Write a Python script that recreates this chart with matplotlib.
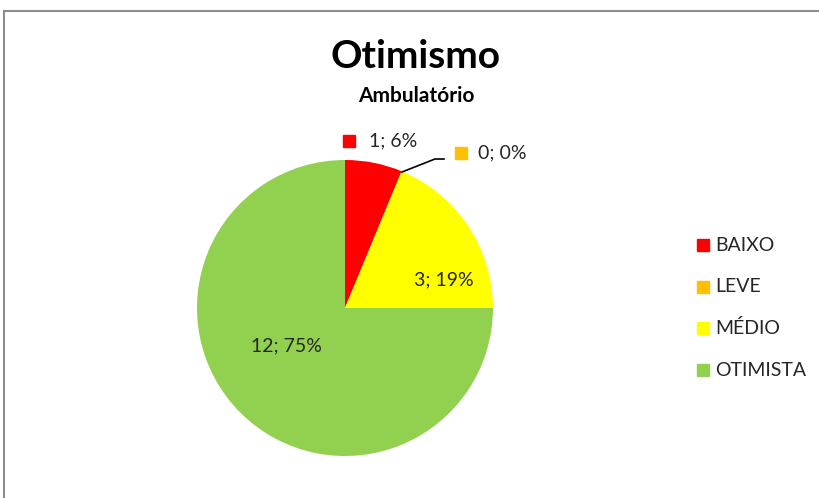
import numpy as np
import matplotlib.pyplot as plt
from matplotlib.patches import Rectangle
from matplotlib.lines import Line2D

categories = ['BAIXO', 'LEVE', 'MÉDIO', 'OTIMISTA']
counts = [1, 0, 3, 12]
percents = ['6%', '0%', '19%', '75%']
colors = ['#FF0000', '#FFC000', '#FFFF00', '#92D050']

plt.rcParams['font.family'] = ['Lato', 'DejaVu Sans']

W, H = 819, 498
fig = plt.figure(figsize=(W / 100, H / 100), dpi=100)

def fx(px):
    return px / W

def fy(py):
    return 1 - py / H

# frame of the chart area
fig.add_artist(Line2D([fx(4), 1], [fy(11), fy(11)], color='#8c8c8c', lw=1.5))
fig.add_artist(Line2D([fx(4), fx(4)], [fy(11), 0], color='#8c8c8c', lw=1.5))

# pie: centre (345, 308), radius 148 px
cx, cy, r = 345, 308, 148
ax = fig.add_axes([fx(cx - r), fy(cy + r), 2 * r / W, 2 * r / H])
ax.pie(counts, colors=colors, startangle=90, counterclock=False, radius=1,
       wedgeprops=dict(linewidth=0))
ax.set_xlim(-1, 1)
ax.set_ylim(-1, 1)
ax.set_aspect('auto')
ax.axis('off')

def dx(px):
    return (px - cx) / r

def dy(py):
    return (cy - py) / r

labels = [f'{c}; {p}' for c, p in zip(counts, percents)]
fs = 14
tc = '#262626'

# BAIXO label with key square
ax.add_patch(Rectangle((dx(343), dy(147)), 12 / r, 12 / r, color=colors[0], clip_on=False))
ax.text(dx(369), dy(141), labels[0], fontsize=fs, va='center', ha='left', color=tc)

# LEVE label with key square and leader line
ax.add_patch(Rectangle((dx(455), dy(159)), 12 / r, 12 / r, color=colors[1], clip_on=False))
ax.text(dx(478), dy(153), labels[1], fontsize=fs, va='center', ha='left', color=tc)
ax.plot([dx(402), dx(435), dx(444)], [dy(172), dy(159), dy(159)], color='black', lw=1.2,
        clip_on=False)

# inner labels
ax.text(dx(444), dy(280), labels[2], fontsize=fs, va='center', ha='center', color=tc)
ax.text(dx(286), dy(346), labels[3], fontsize=fs, va='center', ha='center', color=tc)

# titles
fig.text(fx(416), fy(56), 'Otimismo', fontsize=28, fontweight='bold', ha='center', va='center')
fig.text(fx(416), fy(96), 'Ambulatório', fontsize=15, fontweight='bold', ha='center', va='center')

# legend
leg_y = [245, 287, 328, 370]
for cat, col, ly in zip(categories, colors, leg_y):
    fig.add_artist(Rectangle((fx(697), fy(ly + 6)), 12 / W, 12 / H, color=col))
    fig.text(fx(715), fy(ly), cat, fontsize=fs, ha='left', va='center', color=tc)

fig.savefig('out.png', dpi=100)
